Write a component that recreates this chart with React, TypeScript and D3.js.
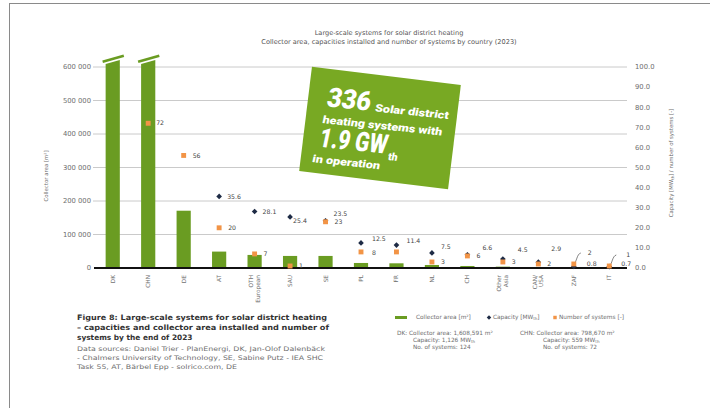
import React from "react";
import * as d3 from "d3";

const categories = ["DK", "CHN", "DE", "AT", "OTH European", "SAU", "SE", "PL", "FR", "NL", "CH", "Other Asia", "CAN/ USA", "ZAF", "IT"];
const collectorArea = [1608591, 798670, 171000, 49000, 39000, 36000, 36000, 15000, 14000, 9000, 6000, 4000, 3000, 1500, 800];
const capacity = [1126, 559, 120, 35.6, 28.1, 25.4, 23.5, 12.5, 11.4, 7.5, 6.6, 4.5, 2.9, 0.8, 0.7];
const systems = [124, 72, 56, 20, 7, 1, 23, 8, 8, 3, 6, 3, 2, 2, 1];
const capacityLabels = ["", "", "", "35.6", "28.1", "25.4", "23.5", "12.5", "11.4", "7.5", "6.6", "4.5", "2.9", "0.8", "0.7"];
const systemsLabels = ["", "72", "56", "20", "7", "1", "23", "8", "", "3", "6", "3", "2", "2", "1"];
const leftTicks = [0, 100000, 200000, 300000, 400000, 500000, 600000];
const rightTicks = [0, 10, 20, 30, 40, 50, 60, 70, 80, 90, 100];

// label layout offsets (styling only)
const capOffset: Record<string, [number, number]> = {
  SAU: [3, 4], SE: [8, -7], PL: [11, -4], FR: [10, -4], NL: [9, -6], CH: [15, -7],
  "Other Asia": [15, -9], "CAN/ USA": [13, -13], ZAF: [13, -3], IT: [12, -3],
};
const sysOffset: Record<string, [number, number]> = {
  CHN: [8, 0], PL: [11, 1], ZAF: [14, -11], IT: [17, -11],
};

const W = 710, H = 408;
const GREEN = "#6a9c22";
const ORANGE = "#f29446";
const NAVY = "#1e2b45";
const GREY = "#6e6e6e";

export default function App() {
  const x = d3.scaleBand<string>().domain(categories).range([95, 627]).paddingInner(0.6).paddingOuter(0.3);
  const yL = d3.scaleLinear().domain([0, 600000]).range([268, 67]);
  const yR = d3.scaleLinear().domain([0, 100]).range([268, 67]);
  const fmtL = (v: number) => d3.format(",")(v).replace(/,/g, " ");
  const fmtR = d3.format(".1f");
  const bw = x.bandwidth();
  const diamond = d3.symbol().type(d3.symbolSquare).size(16)()!;
  const square = d3.symbol().type(d3.symbolSquare).size(24)()!;
  const font = "'DejaVu Sans', sans-serif";

  return (
    <svg width={W} height={H} style={{ position: "absolute", left: 0, top: 0, background: "#fff" }} fontFamily={font}>
      <rect width={W} height={H} fill="#fff" />
      <line x1={9} y1={3.5} x2={W} y2={3.5} stroke="#8a8a8a" strokeWidth={1} />
      <line x1={9.5} y1={3} x2={9.5} y2={H} stroke="#8a8a8a" strokeWidth={1} />

      {/* title */}
      <text x={389} y={35} textAnchor="middle" fontSize={6.6} fill="#555">Large-scale systems for solar district heating</text>
      <text x={389} y={44} textAnchor="middle" fontSize={6.6} fill="#555">Collector area, capacities installed and number of systems by country (2023)</text>

      {/* gridlines */}
      {leftTicks.filter((t) => t > 0).map((t) => (
        <line key={t} x1={93} x2={627} y1={yL(t)} y2={yL(t)} stroke="#c4c4c4" strokeWidth={0.9} />
      ))}
      {leftTicks.map((t) => (
        <text key={"l" + t} x={91} y={yL(t)} dy="0.35em" textAnchor="end" fontSize={6.8} fill={GREY}>{fmtL(t)}</text>
      ))}
      {rightTicks.map((t) => (
        <text key={"r" + t} x={635} y={yR(t)} dy="0.35em" textAnchor="start" fontSize={6.8} fill={GREY}>{fmtR(t)}</text>
      ))}
      <text transform={`translate(48,176) rotate(-90)`} textAnchor="middle" fontSize={5.4} fill={GREY}>Collector area [m²]</text>
      <text transform={`translate(673,163) rotate(-90)`} textAnchor="middle" fontSize={5.4} fill={GREY}>
        Capacity [MW<tspan fontSize={3.8} dy={1}>th</tspan><tspan dy={-1}>] / number of systems [-]</tspan>
      </text>

      {/* bars */}
      {categories.map((c, i) => {
        const x0 = x(c)!;
        const v = collectorArea[i];
        if (v <= 600000) {
          return <rect key={c} x={x0} y={yL(v)} width={bw} height={yL(0) - yL(v)} fill={GREEN} />;
        }
        const yT = yL(615000);
        const slope = 4 / bw;
        return (
          <g key={c}>
            <path d={`M${x0},${yL(0)}L${x0},${yT + 2}L${x0 + bw},${yT - 2}L${x0 + bw},${yL(0)}Z`} fill={GREEN} />
            <line x1={x0 - 3} y1={yT + 2 - 3 + 3 * slope} x2={x0 + bw + 4} y2={yT - 2 - 3 - 4 * slope} stroke={GREEN} strokeWidth={2.6} />
          </g>
        );
      })}

      {/* baseline */}
      <line x1={94} x2={627} y1={yL(0)} y2={yL(0)} stroke="#111" strokeWidth={1.8} />

      {/* x labels */}
      {categories.map((c) => {
        const parts = c.split(" ");
        const cx = x(c)! + bw / 2;
        return (
          <text key={"x" + c} transform={`translate(${cx},275) rotate(-90)`} textAnchor="end" fontSize={5.8} fill={GREY}>
            {parts.map((p, k) => (
              <tspan key={k} x={0} dy={k === 0 ? (parts.length > 1 ? "-0.25em" : "0.35em") : "1.1em"}>{p}</tspan>
            ))}
          </text>
        );
      })}

      {/* leader lines for small values */}
      {["ZAF", "IT"].map((c) => {
        const i = categories.indexOf(c);
        const cx = x(c)! + bw / 2;
        const y0 = yR(systems[i]);
        return <path key={"ld" + c} d={`M${cx},${y0}C${cx + 3},${y0 - 2} ${cx + 3},${y0 - 10} ${cx + 7},${y0 - 11}`} fill="none" stroke="#333" strokeWidth={0.6} />;
      })}

      {/* markers */}
      {categories.map((c, i) => {
        const cx = x(c)! + bw / 2;
        const els: JSX.Element[] = [];
        if (capacity[i] <= 100) {
          els.push(<path key="cap" d={diamond} transform={`translate(${cx},${yR(capacity[i])}) rotate(45)`} fill={NAVY} />);
        }
        if (systems[i] <= 100) {
          els.push(<path key="sys" d={square} transform={`translate(${cx},${yR(systems[i])})`} fill={ORANGE} />);
        }
        if (capacity[i] <= 100 && capacityLabels[i]) {
          const [dx, dy] = capOffset[c] || [8, 0];
          els.push(<text key="cl" x={cx + dx} y={yR(capacity[i]) + dy} dy="0.35em" fontSize={6.2} fill="#444">{capacityLabels[i]}</text>);
        }
        if (systems[i] <= 100 && systemsLabels[i]) {
          const [dx, dy] = sysOffset[c] || [9, 0];
          els.push(<text key="sl" x={cx + dx} y={yR(systems[i]) + dy} dy="0.35em" fontSize={6.2} fill="#444">{systemsLabels[i]}</text>);
        }
        return <g key={"m" + c}>{els}</g>;
      })}

      {/* green callout box */}
      <g transform="translate(380,128) rotate(7)">
        <rect x={-75} y={-52.5} width={150} height={105} fill="#78a923" />
        <g fill="#fff" fontFamily="'Roboto', 'DejaVu Sans', sans-serif" fontWeight={900} transform="rotate(-1) skewX(-6)">
          <text x={-58} y={-16} fontSize={27} textLength={44} lengthAdjust="spacingAndGlyphs">336</text>
          <text x={-9} y={-16} fontSize={10.5} textLength={74} lengthAdjust="spacingAndGlyphs">Solar district</text>
          <text x={-58} y={1} fontSize={10.5} textLength={120} lengthAdjust="spacingAndGlyphs">heating systems with</text>
          <text x={-57} y={25} fontSize={27} textLength={68} lengthAdjust="spacingAndGlyphs">1.9 GW</text>
          <text x={14} y={31} fontSize={10.5}>th</text>
          <text x={-60} y={41} fontSize={10.5} textLength={68} lengthAdjust="spacingAndGlyphs">in operation</text>
        </g>
      </g>

      {/* legend */}
      <rect x={395} y={316} width={12} height={3} fill={GREEN} />
      <text x={416} y={319} fontSize={5.8} fill={GREY}>Collector area [m²]</text>
      <path d={d3.symbol().type(d3.symbolSquare).size(10)()!} transform="translate(489,317.5) rotate(45)" fill={NAVY} />
      <text x={493} y={319} fontSize={5.8} fill={GREY}>Capacity [MW<tspan fontSize={4} dy={1}>th</tspan><tspan dy={-1}>]</tspan></text>
      <path d={d3.symbol().type(d3.symbolSquare).size(12)()!} transform="translate(555,317.5)" fill={ORANGE} />
      <text x={559} y={319} fontSize={5.8} fill={GREY}>Number of systems [-]</text>

      {/* notes */}
      <g fontSize={5.8} fill={GREY}>
        <text x={397} y={335}>DK: Collector area: 1,608,591 m²</text>
        <text x={413} y={342}>Capacity: 1,126 MW<tspan fontSize={4} dy={1}>th</tspan></text>
        <text x={413} y={349}>No. of systems: 124</text>
        <text x={520} y={335}>CHN: Collector area: 798,670 m²</text>
        <text x={543} y={342}>Capacity: 559 MW<tspan fontSize={4} dy={1}>th</tspan></text>
        <text x={543} y={349}>No. of systems: 72</text>
      </g>

      {/* caption */}
      <g fill="#333" fontWeight={700} fontSize={7.4}>
        <text x={77} y={320} textLength={250} lengthAdjust="spacingAndGlyphs">Figure 8: Large-scale systems for solar district heating</text>
        <text x={77} y={330} textLength={252} lengthAdjust="spacingAndGlyphs">– capacities and collector area installed and number of</text>
        <text x={77} y={340}>systems by the end of 2023</text>
      </g>
      <g fill={GREY} fontSize={6.3}>
        <text x={77} y={351} textLength={248} lengthAdjust="spacingAndGlyphs">Data sources: Daniel Trier - PlanEnergi, DK, Jan-Olof Dalenbäck</text>
        <text x={77} y={360} textLength={246} lengthAdjust="spacingAndGlyphs">- Chalmers University of Technology, SE, Sabine Putz - IEA SHC</text>
        <text x={77} y={369} textLength={160} lengthAdjust="spacingAndGlyphs">Task 55, AT, Bärbel Epp - solrico.com, DE</text>
      </g>
    </svg>
  );
}
